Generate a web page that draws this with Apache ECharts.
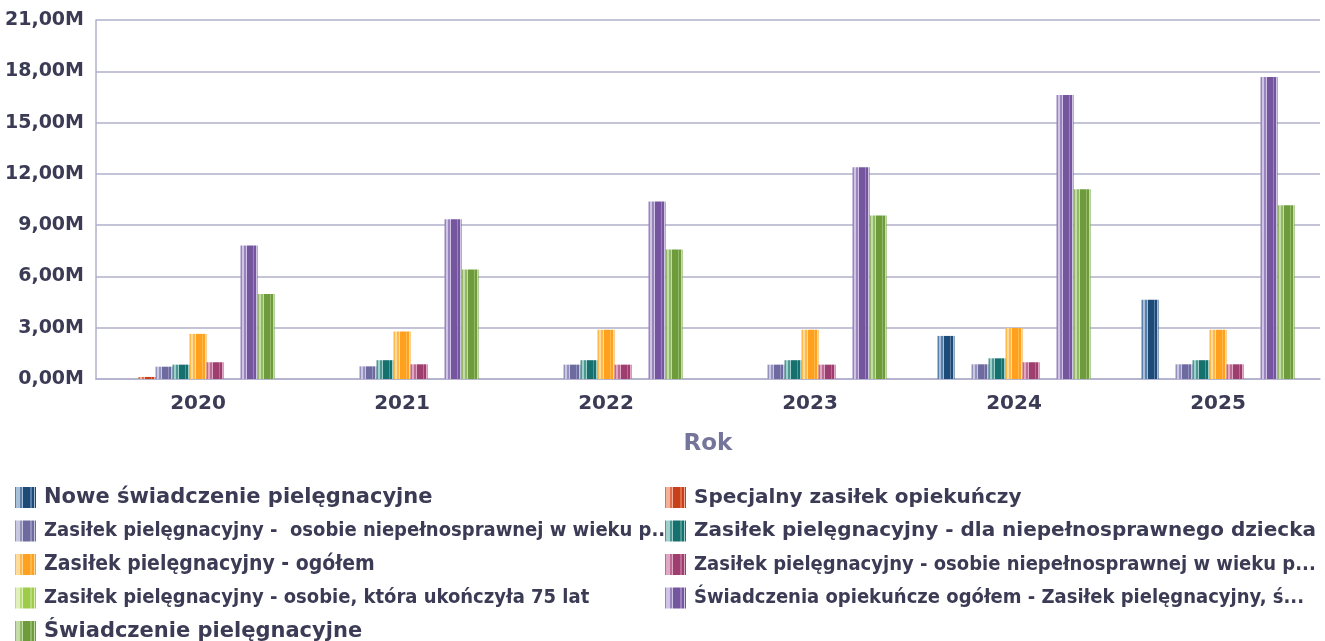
<!DOCTYPE html>
<html>
<head>
<meta charset="utf-8">
<script src="https://cdn.jsdelivr.net/npm/echarts@6/dist/echarts.min.js"></script>
<style>
  html, body { margin: 0; padding: 0; background: #fff; }
  #chart { width: 1325px; height: 641px; }
</style>
</head>
<body>
<div id="chart"></div>
<script>
// Years on the category axis
const years = ['2020', '2021', '2022', '2023', '2024', '2025'];

// Series names (legend order)
const names = [
  'Nowe świadczenie pielęgnacyjne',
  'Specjalny zasiłek opiekuńczy',
  'Zasiłek pielęgnacyjny -  osobie niepełnosprawnej w wieku p...',
  'Zasiłek pielęgnacyjny - dla niepełnosprawnego dziecka',
  'Zasiłek pielęgnacyjny - ogółem',
  'Zasiłek pielęgnacyjny - osobie niepełnosprawnej w wieku p...',
  'Zasiłek pielęgnacyjny - osobie, która ukończyła 75 lat',
  'Świadczenia opiekuńcze ogółem - Zasiłek pielęgnacyjny, ś...',
  'Świadczenie pielęgnacyjne'
];

// Values per series, one per year (null = no bar)
const noweSwiadczenie     = [null, null, null, null, 2520000, 4640000];
const specjalnyZasilek    = [120000, null, null, null, null, null];
const zasilekPowyzej      = [720000, 740000, 840000, 840000, 860000, 860000];
const zasilekDziecko      = [840000, 1100000, 1100000, 1100000, 1210000, 1100000];
const zasilekOgolem       = [2640000, 2780000, 2880000, 2880000, 2990000, 2880000];
const zasilekWieku        = [980000, 860000, 840000, 840000, 980000, 860000];
const zasilek75           = [null, null, null, null, null, null];
const swiadczeniaOgolem   = [7810000, 9340000, 10390000, 12390000, 16620000, 17670000];
const swiadczeniePieleg   = [4970000, 6400000, 7570000, 9570000, 11100000, 10160000];

const values = [noweSwiadczenie, specjalnyZasilek, zasilekPowyzej, zasilekDziecko,
  zasilekOgolem, zasilekWieku, zasilek75, swiadczeniaOgolem, swiadczeniePieleg];

// Shades per series: [dark, mid, light]
const shades = [
  ['#1e4a78', '#5a7fa8', '#a8bfd8'],
  ['#c8401a', '#e0704a', '#f4b098'],
  ['#6c6a9e', '#9492bc', '#c8c8e0'],
  ['#16706e', '#4e9894', '#a0d0cc'],
  ['#ffa01e', '#ffb84c', '#ffdc9c'],
  ['#9e3e6e', '#bc6c94', '#e0a8c4'],
  ['#9ccc48', '#b8dc78', '#e0f0b8'],
  ['#74559e', '#9a84c0', '#cfc4e4'],
  ['#6e9c3c', '#92b868', '#c4dca8']
];

// Vertical stripe fill built from hard gradient stops
function stripes(s) {
  const [d, m, l] = s;
  const bands = [
    [0.00, 0.07, m], [0.07, 0.23, l], [0.23, 0.32, m], [0.32, 0.39, l],
    [0.39, 0.73, d], [0.73, 0.80, m], [0.80, 0.89, d], [0.89, 0.95, l], [0.95, 1.00, d]
  ];
  const stops = [];
  bands.forEach(([a, b, c]) => { stops.push({ offset: a, color: c }, { offset: b, color: c }); });
  return new echarts.graphic.LinearGradient(0, 0, 1, 0, stops);
}

const txt = '#3b3b55';
const gridCol = '#b0b0cc';
// Legend text style per entry: condensed face for the long ones, smaller size for some plain ones
const legendStyleOf = {};
legendStyleOf[names[1]] = 'm';
legendStyleOf[names[2]] = 'n';
legendStyleOf[names[3]] = 'm';
legendStyleOf[names[4]] = 'k';
legendStyleOf[names[5]] = 'n';
legendStyleOf[names[6]] = 'n';
legendStyleOf[names[7]] = 'n';

const series = names.map((n, i) => ({
  name: n,
  type: 'bar',
  data: values[i],
  barGap: '0%',
  barCategoryGap: '25%',
  itemStyle: { color: stripes(shades[i]) },
  emphasis: { disabled: true }
}));

const legendText = {
  fontFamily: 'DejaVu Sans',
  fontWeight: 'bold',
  fontSize: 21,
  color: txt,
  padding: [0, 0, 0, 3],
  rich: {
    n: { fontFamily: 'DejaVu Sans Condensed', fontWeight: 'bold', fontSize: 20, color: txt },
    k: { fontFamily: 'DejaVu Sans Condensed', fontWeight: 'bold', fontSize: 21, color: txt },
    m: { fontFamily: 'DejaVu Sans', fontWeight: 'bold', fontSize: 20, color: txt }
  }
};
const legendFmt = (name) => legendStyleOf[name] ? '{' + legendStyleOf[name] + '|' + name + '}' : name;

const legendBase = {
  orient: 'vertical', top: 487, height: 160, padding: 0,
  itemWidth: 21, itemHeight: 21, itemGap: 12.5,
  icon: 'rect', selectedMode: false,
  formatter: legendFmt, textStyle: legendText
};

const chart = echarts.init(document.getElementById('chart'), null, { renderer: 'canvas' });
chart.setOption({
  animation: false,
  grid: { left: 96, right: 5, top: 20, bottom: 262 },
  xAxis: {
    type: 'category',
    data: years,
    name: 'Rok',
    nameLocation: 'middle',
    nameGap: 54,
    nameTextStyle: { fontFamily: 'DejaVu Sans', fontWeight: 'bold', fontSize: 23, color: '#75759c' },
    axisLine: { lineStyle: { color: gridCol, width: 1.5 } },
    axisTick: { show: false },
    axisLabel: { margin: 15, fontFamily: 'DejaVu Sans', fontWeight: 'bold', fontSize: 20, color: txt }
  },
  yAxis: {
    type: 'value',
    min: 0,
    max: 21000000,
    interval: 3000000,
    axisLine: { show: true, lineStyle: { color: gridCol, width: 1.5 } },
    axisTick: { show: false },
    splitLine: { lineStyle: { color: gridCol, width: 1.5 } },
    axisLabel: {
      margin: 12,
      fontFamily: 'DejaVu Sans', fontWeight: 'bold', fontSize: 19, color: txt,
      formatter: (v) => (v / 1e6).toFixed(2).replace('.', ',') + 'M'
    }
  },
  legend: [
    Object.assign({}, legendBase, {
      data: [names[0], names[2], names[4], names[6], names[8]],
      left: 15
    }),
    Object.assign({}, legendBase, {
      data: [names[1], names[3], names[5], names[7]],
      left: 665
    })
  ],
  series: series
});
</script>
</body>
</html>
